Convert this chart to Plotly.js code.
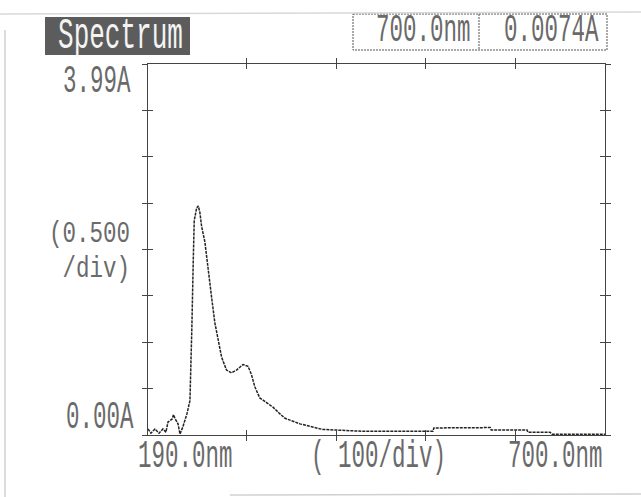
<!DOCTYPE html>
<html>
<head>
<meta charset="utf-8">
<script src="https://cdn.plot.ly/plotly-3.0.1.min.js"></script>
<style>html,body{margin:0;padding:0;background:#fff}#chart{width:641px;height:497px}</style>
</head>
<body>
<div id="chart"></div>
<script>
// ---- data ----
const wavelength = [190,193.3,197.8,202.3,206.7,210,212.3,216.8,218.5,220,223.5,225.7,229,233.5,236.8,238,239,240.5,241.6,244.3,246.1,247.9,249.8,253.5,257.1,260.9,264.6,268.3,272.1,277.6,283.2,288.8,296.1,301.7,305.5,309.2,314.7,322.2,329.5,337,342.9,359.6,385,430,470,508,509,540,572,573,613,614,638.6,641,670,700];
const absorbance = [0.065,0.02,0.065,0.02,0.065,0.03,0.14,0.17,0.22,0.18,0.12,0.01,0.09,0.23,0.37,0.72,1.18,1.88,2.31,2.45,2.47,2.40,2.25,2.08,1.82,1.49,1.21,1.03,0.84,0.70,0.67,0.70,0.76,0.74,0.65,0.52,0.40,0.35,0.30,0.23,0.18,0.12,0.06,0.04,0.04,0.04,0.076,0.078,0.08,0.055,0.055,0.03,0.03,0.008,0.007,0.0074];
const xTickVals = [300,400,500,600];
const yTickStep = 0.5;
const xRange = [190,700];
const yRange = [0,4];
const yTopLabel = "3.99A";
const yBottomLabel = "0.00A";
const yScaleLabel = "(0.500<br>/div)";
const xLeftLabel = "190.0nm";
const xScaleLabel = "( 100/div)";
const xRightLabel = "700.0nm";
const cursorWavelength = "700.0nm";
const cursorAbsorbance = "0.0074A";
const titleText = "Spectrum";

// ---- layout helpers (pixel -> paper) ----
const L=148, R=605, T=64, B=435;
const px = v => (v-L)/(R-L);
const py = v => (B-v)/(B-T);
const FS = 22.5, STRETCH = 1.7, STRETCH_MULTI = 1.35, LINE_PITCH = 35;
const fontTxt = {family:"Liberation Mono, DejaVu Sans Mono, monospace", size:FS, color:"#6a6a6a"};
function ann(text, x, y, xanchor, font){
  return {text:text, xref:"paper", yref:"paper", x:px(x), y:py(y), xanchor:xanchor, yanchor:"middle", showarrow:false, align:"right", font:font||fontTxt};
}

const axisCommon = {showgrid:false, zeroline:false, showticklabels:false, showline:true, linecolor:"#444", linewidth:1, tickcolor:"#444", tickwidth:1, ticklen:5, mirror:"allticks"};

const data = [
  {x:wavelength, y:absorbance, type:"scatter", mode:"lines", line:{color:"#222", width:1.5, dash:"3px,1px"}, hoverinfo:"skip", xaxis:"x", yaxis:"y"},
  {x:[], y:[], type:"scatter", mode:"lines", xaxis:"x2", yaxis:"y2", hoverinfo:"skip"}
];

const layout = {
  width:641, height:497,
  margin:{l:L, r:641-R, t:T, b:497-B, pad:0},
  paper_bgcolor:"#fff", plot_bgcolor:"#fff",
  showlegend:false,
  xaxis:Object.assign({}, axisCommon, {range:xRange, tickmode:"array", tickvals:xTickVals, ticks:"inside", anchor:"y"}),
  yaxis:Object.assign({}, axisCommon, {range:yRange, tick0:0, dtick:yTickStep, ticks:"inside", anchor:"x"}),
  xaxis2:Object.assign({}, axisCommon, {range:xRange, tickmode:"array", tickvals:xTickVals, ticks:"outside", overlaying:"x", anchor:"y2"}),
  yaxis2:Object.assign({}, axisCommon, {range:yRange, tick0:0, dtick:yTickStep, ticks:"outside", overlaying:"y", anchor:"x2"}),
  shapes:[
    // title block
    {type:"rect", xref:"paper", yref:"paper", x0:px(45), x1:px(190), y0:py(17), y1:py(55), fillcolor:"#5c5c5c", line:{width:0}, layer:"below"},
    // cursor read-out box
    {type:"rect", xref:"paper", yref:"paper", x0:px(353), x1:px(607), y0:py(14), y1:py(50), line:{color:"#555", width:1, dash:"2px,1px"}},
    {type:"line", xref:"paper", yref:"paper", x0:px(479), x1:px(479), y0:py(14), y1:py(50), line:{color:"#555", width:1, dash:"2px,1px"}},
    // paper edges of the scan
    {type:"line", xref:"paper", yref:"paper", x0:px(0), x1:px(641), y0:py(14), y1:py(12), line:{color:"#d8d8d8", width:1.5}},
    {type:"line", xref:"paper", yref:"paper", x0:px(5), x1:px(5), y0:py(30), y1:py(497), line:{color:"#d0d0d0", width:1.5}},
    {type:"line", xref:"paper", yref:"paper", x0:px(230), x1:px(641), y0:py(495), y1:py(494), line:{color:"#d0d0d0", width:1.5}}
  ],
  annotations:[
    ann(yTopLabel, 133, 82, "right"),
    ann(yScaleLabel, 132, 252, "right"),
    ann(yBottomLabel, 136, 418, "right"),
    ann(xLeftLabel, 136, 457, "left"),
    ann(xScaleLabel, 309, 457, "left"),
    ann(xRightLabel, 506, 457, "left"),
    ann(cursorWavelength, 374, 31, "left"),
    ann(cursorAbsorbance, 502, 31, "left"),
    ann(titleText, 120, 36, "center", {family:"Liberation Mono, DejaVu Sans Mono, monospace", size:26, color:"#f4f4f4"})
  ]
};

Plotly.newPlot("chart", data, layout, {staticPlot:true, displayModeBar:false}).then(function(){
  // printer font: tall narrow glyphs -> stretch each text vertically about its centre
  document.querySelectorAll("#chart .annotation-text").forEach(function(t){
    const b0 = t.getBBox();
    const cy0 = b0.y + b0.height/2;
    const lines = t.querySelectorAll("tspan.line");
    let s = STRETCH;
    if(lines.length > 1){
      s = STRETCH_MULTI;
      lines.forEach(function(ln, i){ ln.setAttribute("dy", (i*LINE_PITCH/s/FS) + "em"); });
    }
    const b1 = t.getBBox();
    const cy1 = b1.y + b1.height/2;
    t.setAttribute("transform", "translate(0 " + cy0 + ") scale(1 " + s + ") translate(0 " + (-cy1) + ")");
  });
});
</script>
</body>
</html>
